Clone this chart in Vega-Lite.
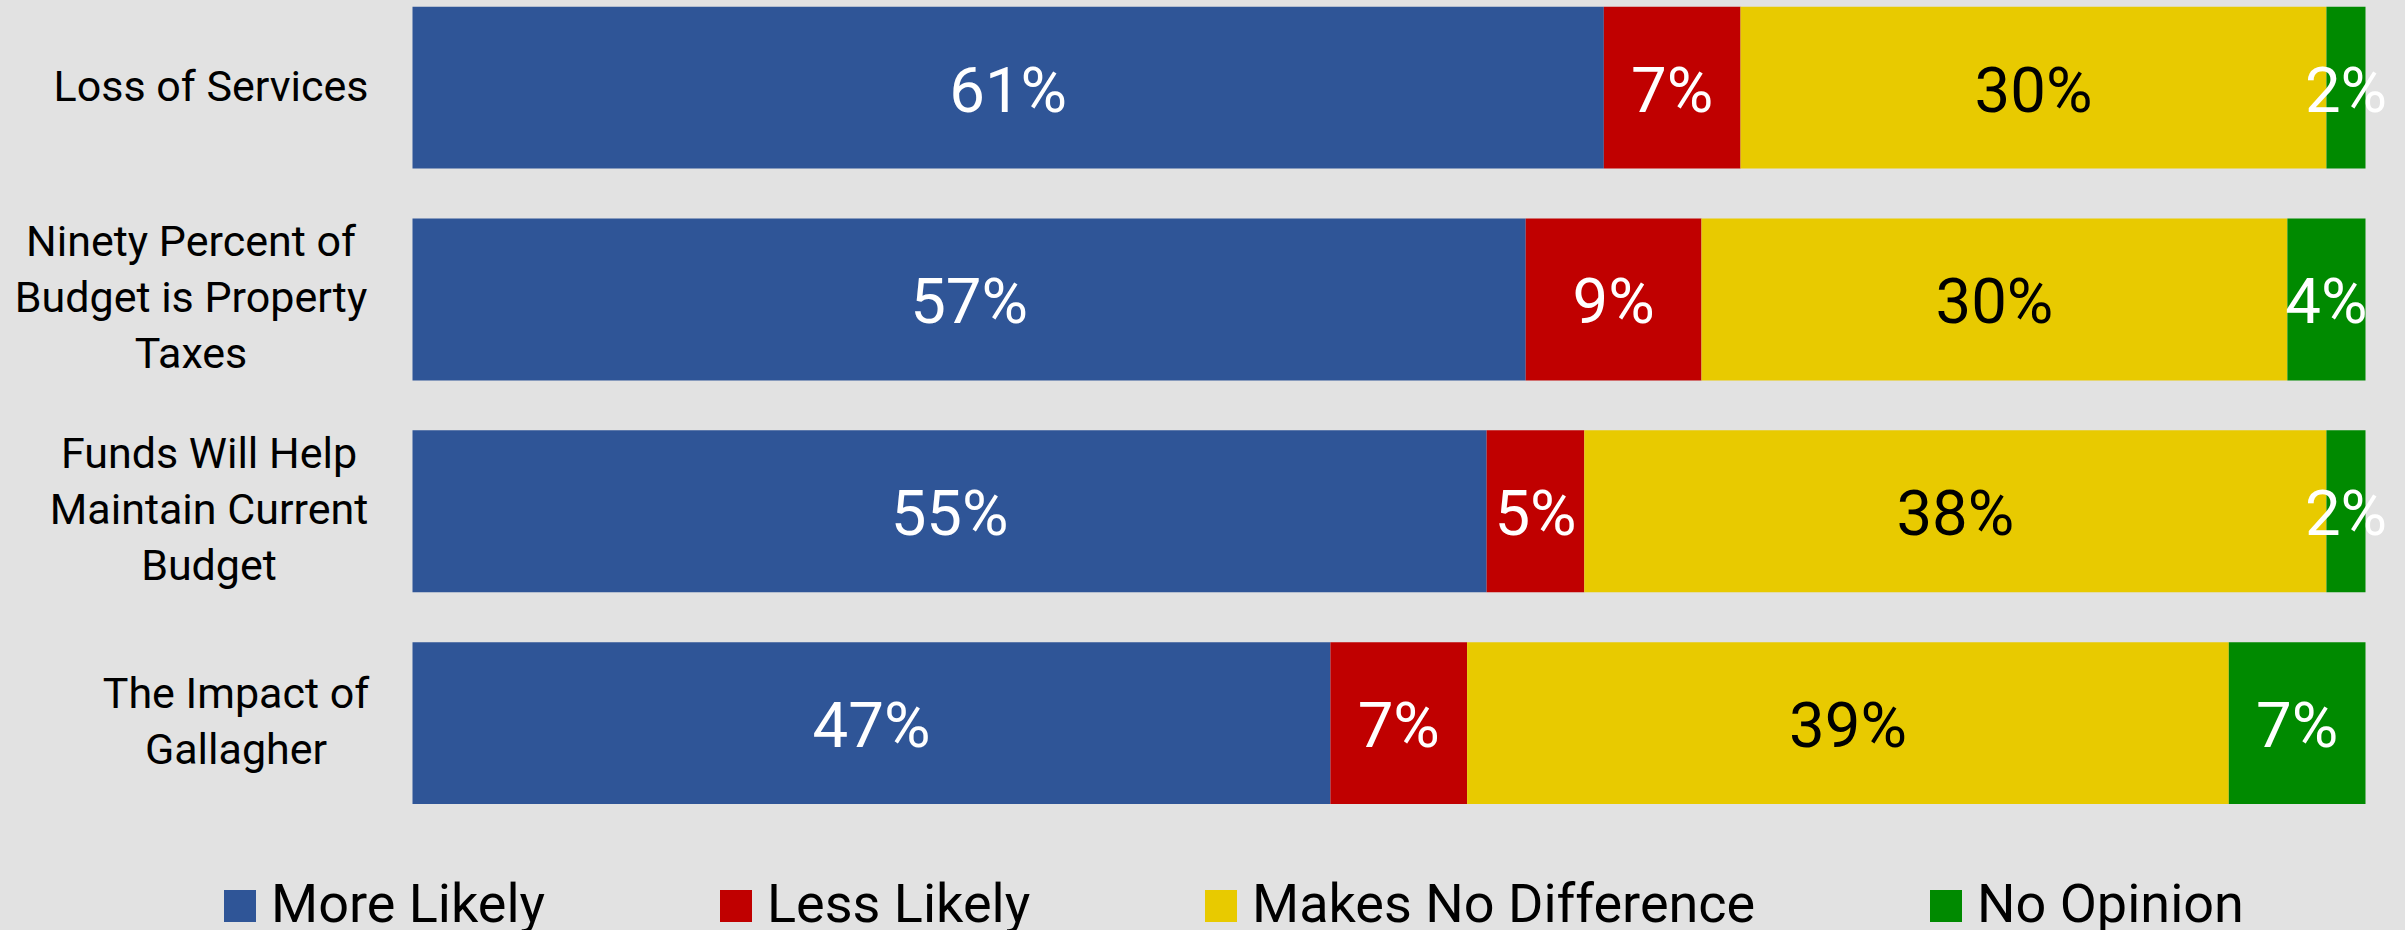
{
  "$schema": "https://vega.github.io/schema/vega-lite/v6.json",
  "width": 1953,
  "height": 830,
  "autosize": {"type": "none"},
  "padding": {"left": 412.5, "top": 0, "right": 39.5, "bottom": 100},
  "background": "#e2e2e2",
  "config": {"view": {"stroke": null}, "font": "Roboto"},
  "data": {
    "values": [
      {"question": "Loss of Services", "response": "More Likely", "order": 1, "value": 61},
      {"question": "Loss of Services", "response": "Less Likely", "order": 2, "value": 7},
      {"question": "Loss of Services", "response": "Makes No Difference", "order": 3, "value": 30},
      {"question": "Loss of Services", "response": "No Opinion", "order": 4, "value": 2},
      {"question": "Ninety Percent of Budget is Property Taxes", "response": "More Likely", "order": 1, "value": 57},
      {"question": "Ninety Percent of Budget is Property Taxes", "response": "Less Likely", "order": 2, "value": 9},
      {"question": "Ninety Percent of Budget is Property Taxes", "response": "Makes No Difference", "order": 3, "value": 30},
      {"question": "Ninety Percent of Budget is Property Taxes", "response": "No Opinion", "order": 4, "value": 4},
      {"question": "Funds Will Help Maintain Current Budget", "response": "More Likely", "order": 1, "value": 55},
      {"question": "Funds Will Help Maintain Current Budget", "response": "Less Likely", "order": 2, "value": 5},
      {"question": "Funds Will Help Maintain Current Budget", "response": "Makes No Difference", "order": 3, "value": 38},
      {"question": "Funds Will Help Maintain Current Budget", "response": "No Opinion", "order": 4, "value": 2},
      {"question": "The Impact of Gallagher", "response": "More Likely", "order": 1, "value": 47},
      {"question": "The Impact of Gallagher", "response": "Less Likely", "order": 2, "value": 7},
      {"question": "The Impact of Gallagher", "response": "Makes No Difference", "order": 3, "value": 39},
      {"question": "The Impact of Gallagher", "response": "No Opinion", "order": 4, "value": 7}
    ]
  },
  "transform": [
    {"stack": "value", "groupby": ["question"], "sort": [{"field": "order", "order": "ascending"}], "as": ["x0", "x1"]},
    {"calculate": "(datum.x0 + datum.x1) / 2", "as": "mid"},
    {"calculate": "datum.value + '%'", "as": "label"}
  ],
  "encoding": {
    "y": {
      "field": "question",
      "type": "nominal",
      "sort": ["Loss of Services", "Ninety Percent of Budget is Property Taxes", "Funds Will Help Maintain Current Budget", "The Impact of Gallagher"],
      "scale": {"paddingInner": 0.236, "paddingOuter": 0.077, "align": 0.205},
      "axis": {
        "title": null,
        "domain": false,
        "ticks": false,
        "labelFont": "Roboto",
        "labelFontSize": 43,
        "labelColor": "#000000",
        "labelAlign": "center",
        "labelBaseline": "middle",
        "labelLineHeight": 56,
        "labelLimit": 0,
        "labelPadding": {
          "condition": [
            {"test": "datum.value == 'Loss of Services'", "value": 202},
            {"test": "datum.value == 'Ninety Percent of Budget is Property Taxes'", "value": 222},
            {"test": "datum.value == 'Funds Will Help Maintain Current Budget'", "value": 204}
          ],
          "value": 177
        },
        "labelOffset": {
          "condition": [
            {"test": "datum.value == 'Ninety Percent of Budget is Property Taxes'", "value": -56},
            {"test": "datum.value == 'Funds Will Help Maintain Current Budget'", "value": -56},
            {"test": "datum.value == 'The Impact of Gallagher'", "value": -28}
          ],
          "value": 0
        },
        "labelExpr": "datum.value == 'Ninety Percent of Budget is Property Taxes' ? ['Ninety Percent of', 'Budget is Property', 'Taxes'] : datum.value == 'Funds Will Help Maintain Current Budget' ? ['Funds Will Help', 'Maintain Current', 'Budget'] : datum.value == 'The Impact of Gallagher' ? ['The Impact of', 'Gallagher'] : datum.value"
      }
    }
  },
  "layer": [
    {
      "mark": {"type": "bar"},
      "encoding": {
        "x": {"field": "x0", "type": "quantitative", "scale": {"domain": [0, 100], "nice": false}, "axis": null},
        "x2": {"field": "x1"},
        "color": {
          "field": "response",
          "type": "nominal",
          "scale": {
            "domain": ["More Likely", "Less Likely", "Makes No Difference", "No Opinion"],
            "range": ["#2f5597", "#c00000", "#e8ca00", "#008a00"]
          },
          "legend": {
            "title": null,
            "orient": "none",
            "direction": "horizontal",
            "columns": 4,
            "legendX": -199.5,
            "legendY": 879,
            "symbolType": "square",
            "symbolSize": 1024,
            "symbolStrokeWidth": 0,
            "symbolOpacity": 1,
            "labelFont": "Roboto",
            "labelFontSize": 54,
            "labelColor": "#000000",
            "labelLimit": 1000,
            "labelOffset": 4,
            "columnPadding": 163
          }
        }
      }
    },
    {
      "mark": {"type": "text", "fontSize": 63.5, "font": "Roboto", "baseline": "middle", "align": "center", "dy": 5},
      "encoding": {
        "x": {"field": "mid", "type": "quantitative"},
        "text": {"field": "label", "type": "nominal"},
        "color": {
          "condition": {"test": "datum.response == 'Makes No Difference'", "value": "#000000"},
          "value": "#ffffff"
        }
      }
    }
  ]
}
